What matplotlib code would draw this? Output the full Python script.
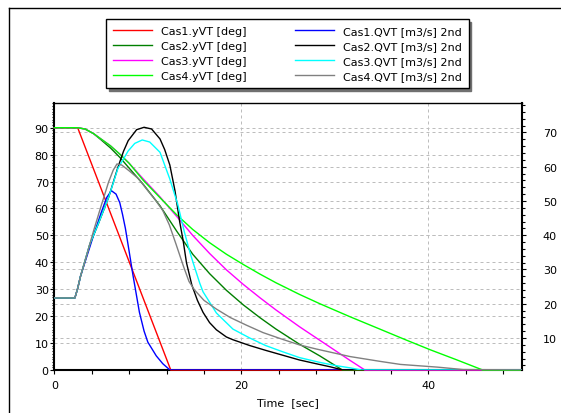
import numpy as np
import matplotlib
matplotlib.use("Agg")
import matplotlib.pyplot as plt
from matplotlib.lines import Line2D
from matplotlib.ticker import MultipleLocator, FixedLocator

plt.rcParams['font.family'] = ['DejaVu Sans']
plt.rcParams['font.size'] = 8

# valve angle curves [deg], left axis
t_cas1_y = [0, 2.5, 12.45, 50]
cas1_y = [90, 90, 0, 0]

t_cas2_y = [0, 2.5, 3.3, 4.2, 5.0, 6.0, 7.0, 8.0, 9.5, 11.3, 13.1, 14.8, 16.6,
            18.4, 20.2, 22.0, 23.7, 26.2, 28.4, 30.8, 50]
cas2_y = [90, 90, 89.5, 87.8, 85.5, 82.5, 79.0, 75.0, 69.0, 61.0, 51.5, 43.0, 35.8,
          29.6, 24.2, 19.4, 15.2, 9.6, 5.2, 0, 0]

t_cas3_y = [0, 2.5, 3.3, 4.2, 5.0, 6.0, 7.0, 8.0, 9.5, 11.3, 13.1, 14.8, 16.6,
            18.4, 20.2, 22.0, 23.7, 26.2, 28.4, 30.0, 31.6, 33.2, 50]
cas3_y = [90, 90, 89.5, 87.8, 85.8, 83.3, 80.2, 76.8, 71.0, 64.3, 57.0, 50.0, 43.3,
          37.2, 31.8, 26.8, 22.3, 16.1, 11.0, 7.3, 3.6, 0, 0]

t_cas4_y = [0, 2.5, 3.3, 4.2, 5.0, 6.0, 7.0, 8.0, 9.5, 11.3, 13.1, 14.8, 16.6,
            18.4, 20.2, 22.0, 23.7, 26.2, 28.4, 31.6, 34.8, 37.5, 40.2, 43.0, 45.8, 50]
cas4_y = [90, 90, 89.5, 87.8, 85.8, 83.3, 80.2, 76.8, 70.5, 64.0, 57.6, 52.2, 47.3,
          43.0, 39.2, 35.6, 32.4, 28.1, 24.6, 19.8, 15.2, 11.3, 7.5, 3.8, 0, 0]

# flow curves [m3/s], right axis
t_cas1_q = [0, 2.2, 2.5, 2.8, 3.5, 4.2, 5.0, 5.6, 6.1, 6.6, 7.0, 7.3, 7.6, 7.9,
            8.4, 9.1, 9.6, 10.0, 10.9, 11.6, 12.35, 50]
cas1_q = [21.7, 21.7, 24.5, 28.0, 34.0, 40.0, 46.5, 51.0, 53.0, 52.0, 49.5, 46.0, 42.0, 37.0,
          28.5, 17.5, 12.0, 8.8, 4.8, 2.5, 0.7, 0.7]

t_cas2_q = [0, 2.2, 2.5, 2.8, 3.8, 4.7, 5.8, 6.8, 7.4, 7.9, 8.8, 9.6, 10.4, 11.3,
            11.8, 12.35, 12.9, 13.4, 13.77, 14.13, 14.7, 15.3, 15.9, 16.6, 17.33,
            18.4, 19.1, 20.9, 22.6, 24.4, 26.2, 28.0, 29.5, 30.8, 50]
cas2_q = [21.7, 21.7, 24.5, 28.0, 37.4, 43.3, 51.0, 59.8, 64.5, 67.6, 70.8, 71.5, 71.0, 68.1,
          65.0, 60.5, 53.0, 44.0, 38.5, 32.0, 25.5, 21.0, 17.5, 14.5, 12.4,
          10.3, 9.5, 7.8, 6.4, 5.0, 3.6, 2.5, 1.6, 0.7, 0.7]

t_cas3_q = [0, 2.2, 2.5, 2.8, 3.8, 4.7, 5.8, 6.8, 7.9, 8.6, 9.4, 10.2, 11.3, 12.35,
            13.2, 13.9, 14.5, 14.84, 15.55, 15.9, 17.33, 19.1, 20.9, 22.6, 24.4,
            26.2, 28.36, 30.0, 31.6, 32.8, 50]
cas3_q = [21.7, 21.7, 24.5, 28.0, 37.4, 43.3, 51.0, 59.5, 64.6, 66.8, 67.8, 67.2, 64.2, 56.4,
          49.0, 41.0, 35.0, 32.0, 26.0, 23.5, 17.3, 12.6, 10.0, 7.8, 6.0,
          4.3, 2.9, 2.0, 1.3, 0.7, 0.7]

t_cas4_q = [0, 2.2, 2.5, 2.8, 3.5, 4.2, 5.0, 5.8, 6.3, 6.7, 7.2, 8.0, 9.0, 10.0, 10.8,
            11.6, 12.3, 13.0, 13.8, 14.4, 15.0, 16.0, 17.3, 18.8, 20.5, 22.3, 24.2,
            26.2, 28.0, 31.6, 34.8, 37.0, 41.0, 43.7, 50]
cas4_q = [21.7, 21.7, 24.5, 28.0, 34.5, 41.3, 48.5, 55.5, 59.0, 60.8, 60.5, 58.8, 56.5, 53.0, 50.3,
          47.2, 43.0, 37.5, 31.0, 26.5, 24.0, 21.0, 18.5, 16.0, 13.8, 11.6, 9.8,
          8.0, 6.8, 4.6, 3.2, 2.3, 1.5, 0.8, 0.7]

y_series = [
    ('Cas1.yVT [deg]', t_cas1_y, cas1_y, '#ff0000'),
    ('Cas2.yVT [deg]', t_cas2_y, cas2_y, '#008000'),
    ('Cas3.yVT [deg]', t_cas3_y, cas3_y, '#ff00ff'),
    ('Cas4.yVT [deg]', t_cas4_y, cas4_y, '#00ff00'),
]
q_series = [
    ('Cas1.QVT [m3/s] 2nd', t_cas1_q, cas1_q, '#0000ff'),
    ('Cas2.QVT [m3/s] 2nd', t_cas2_q, cas2_q, '#000000'),
    ('Cas3.QVT [m3/s] 2nd', t_cas3_q, cas3_q, '#00ffff'),
    ('Cas4.QVT [m3/s] 2nd', t_cas4_q, cas4_q, '#808080'),
]

W, H = 561, 414
fig = plt.figure(figsize=(W / 100, H / 100), dpi=100)
ax = fig.add_axes([54.3 / W, 1 - 371 / H, (522 - 54.3) / W, (371 - 104.3) / H])
ax2 = ax.twinx()

ax.set_xlim(0, 50)
ax.set_ylim(0, 99.07)
ax2.set_ylim(0.67, 78.5)

grid_kw = dict(color='#bdbdbd', linewidth=0.72, linestyle=(0, (3, 3)), zorder=0.5)
for v in range(10, 100, 10):
    ax.axhline(v, **grid_kw)
# right axis grid lines drawn in the left axes so they stay under the curves
lo1, hi1 = ax.get_ylim()
lo2, hi2 = ax2.get_ylim()
for v in range(10, 80, 10):
    ax.axhline(lo1 + (v - lo2) / (hi2 - lo2) * (hi1 - lo1), **grid_kw)
for v in (20, 40):
    ax.axvline(v, **grid_kw)

handles = []
for name, tt, vv, c in y_series:
    h, = ax.plot(tt, vv, color=c, linewidth=1.0, zorder=3, clip_on=False)
    handles.append(h)
for name, tt, vv, c in q_series:
    h, = ax2.plot(tt, vv, color=c, linewidth=1.0, zorder=3)
    handles.append(h)

for s in ('left', 'bottom', 'top'):
    ax2.spines[s].set_visible(False)
ax.spines['top'].set_linewidth(1.0)
ax.spines['left'].set_linewidth(1.5)
ax.spines['bottom'].set_linewidth(1.5)
ax.spines['right'].set_visible(False)
ax2.spines['right'].set_linewidth(1.5)

ax.xaxis.set_major_locator(FixedLocator([0, 20, 40]))
ax.xaxis.set_minor_locator(MultipleLocator(4))
ax.yaxis.set_major_locator(MultipleLocator(10))
ax.yaxis.set_minor_locator(MultipleLocator(1))
ax2.yaxis.set_major_locator(FixedLocator(list(range(10, 80, 10))))
ax2.yaxis.set_minor_locator(MultipleLocator(2))

ax.tick_params(axis='x', which='major', length=3, width=0.8, pad=4, direction='out', labelsize=8)
ax.tick_params(axis='x', which='minor', length=3, width=0.8, direction='out')
ax.tick_params(axis='y', which='major', length=3, width=0.8, pad=1, direction='out', labelsize=8)
ax.tick_params(axis='y', which='minor', length=1.5, width=0.8, direction='out')
ax2.tick_params(axis='y', which='major', length=3, width=0.8, pad=12, direction='out', labelsize=8)
ax2.tick_params(axis='y', which='minor', length=2, width=0.8, direction='out')

ax.set_xlabel('Time  [sec]', fontsize=8, labelpad=5)

leg = fig.legend(handles, [s[0] for s in y_series] + [s[0] for s in q_series],
                 ncol=2, loc='upper left',
                 bbox_to_anchor=(106 / W, 1 - 20 / H), bbox_transform=fig.transFigure,
                 fontsize=8, frameon=True, fancybox=False,
                 shadow={'color': '#707070', 'alpha': 1.0},
                 handlelength=3.5, handletextpad=0.8, columnspacing=4.4,
                 labelspacing=0.45, borderpad=0.62, borderaxespad=0)
leg.get_frame().set_edgecolor('black')
leg.get_frame().set_linewidth(1.0)

# outer frame of the chart panel
fig.add_artist(Line2D([9 / W, 1], [1 - 9 / H, 1 - 9 / H], color='black', linewidth=1.0))
fig.add_artist(Line2D([9 / W, 9 / W], [0, 1 - 9 / H], color='black', linewidth=1.0))

fig.savefig('out.png', dpi=100)
